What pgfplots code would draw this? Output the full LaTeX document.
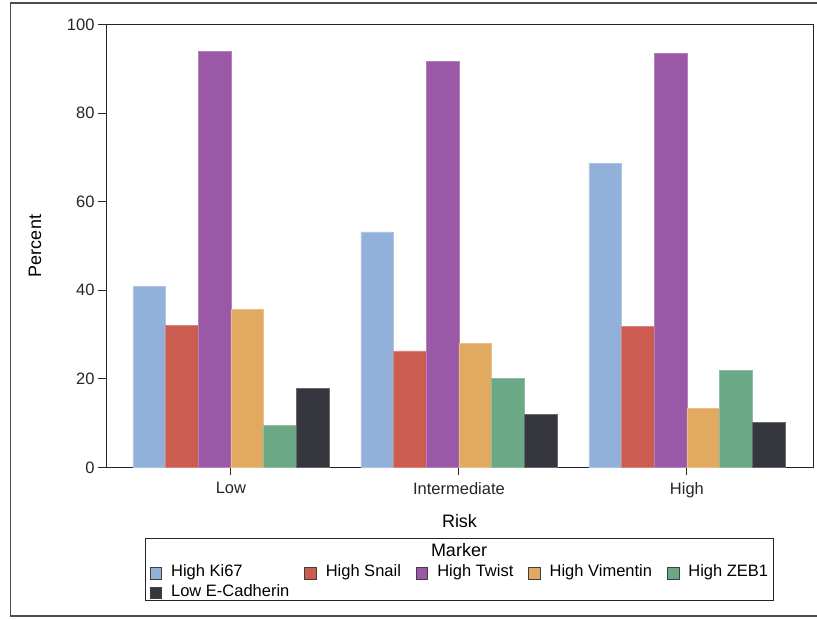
\documentclass[border=0pt]{standalone}
\usepackage{pgfplots}
\pgfplotsset{compat=1.18}
\usepackage{fontspec}
\setmainfont{Liberation Sans}
\definecolor{cKi}{HTML}{92B1DA}
\definecolor{cSn}{HTML}{CC5B50}
\definecolor{cTw}{HTML}{9A58A6}
\definecolor{cVi}{HTML}{E2A960}
\definecolor{cZe}{HTML}{6BA886}
\definecolor{cEc}{HTML}{36363E}
\pgfplotsset{
  sqbar/.style={fill=#1, draw=#1!75!white, line width=0.6bp,
    legend image code/.code={\draw[fill=#1, draw=black!75, line width=0.8bp] (0bp,-6bp) rectangle (11.5bp,5.5bp);}},
}
\begin{document}
\begin{tikzpicture}
\useasboundingbox (0bp,0bp) rectangle (817bp,620bp);
\draw[black!70, line width=1.2bp] (822bp,617bp) -- (10.5bp,617bp) -- (10.5bp,4bp) -- (822bp,4bp);
\begin{axis}[
  at={(106bp,152.5bp)}, anchor=south west,
  scale only axis, width=707bp, height=443bp,
  ybar=0pt, bar width=32.7bp,
  xmin=-0.548, xmax=2.553, ymin=0, ymax=100,
  ytick={0,20,40,60,80,100},
  xtick={0,1,2}, xticklabels={Low,Intermediate,High},
  tick pos=left, tick align=outside, major tick length=8bp,
  axis line style={black!85, line width=1bp},
  tick style={black!85, line width=1bp},
  /pgf/number format/assume math mode=true,
  tick label style={font=\fontsize{16.5bp}{19bp}\selectfont, text=black!85},
  xticklabel style={yshift=-3.5bp},
  xlabel={Risk}, ylabel={Percent},
  every axis x label/.style={at={(rel axis cs:0.5,0)}, anchor=base, yshift=-59.5bp, font=\fontsize{18bp}{21bp}\selectfont},
  every axis y label/.style={at={(rel axis cs:0,0.5)}, rotate=90, anchor=center, yshift=71bp, font=\fontsize{18bp}{21bp}\selectfont},
  legend columns=5,
  legend style={at={(0.4993,-0.2156)}, anchor=north, draw=none, fill=none,
    inner sep=0pt, row sep=0pt,
    font=\fontsize{16.5bp}{19bp}\selectfont,
    nodes={text height=10.5bp, text depth=3bp, inner ysep=3bp, inner xsep=0pt},
    /tikz/every even column/.append style={column sep=15bp},
    /tikz/every odd column/.append style={column sep=9bp}},
  legend cell align=left,
]
\addplot[sqbar=cKi] coordinates {(0,40.8) (1,53.2) (2,68.7)};
\addlegendentry{High Ki67}
\addplot[sqbar=cSn] coordinates {(0,32.0) (1,26.3) (2,31.8)};
\addlegendentry{High Snail}
\addplot[sqbar=cTw] coordinates {(0,94.0) (1,91.6) (2,93.4)};
\addlegendentry{High Twist}
\addplot[sqbar=cVi] coordinates {(0,35.6) (1,28.1) (2,13.3)};
\addlegendentry{High Vimentin}
\addplot[sqbar=cZe] coordinates {(0,9.5) (1,20.2) (2,22.0)};
\addlegendentry{High ZEB1}
\addplot[sqbar=cEc] coordinates {(0,17.9) (1,12.0) (2,10.1)};
\addlegendentry{Low E-Cadherin}
\end{axis}
\draw[black!85, line width=1bp] (145bp,19bp) rectangle (773bp,81bp);
\node[anchor=base, font=\fontsize{18bp}{21bp}\selectfont] at (459bp,63bp) {Marker};
\end{tikzpicture}
\end{document}
